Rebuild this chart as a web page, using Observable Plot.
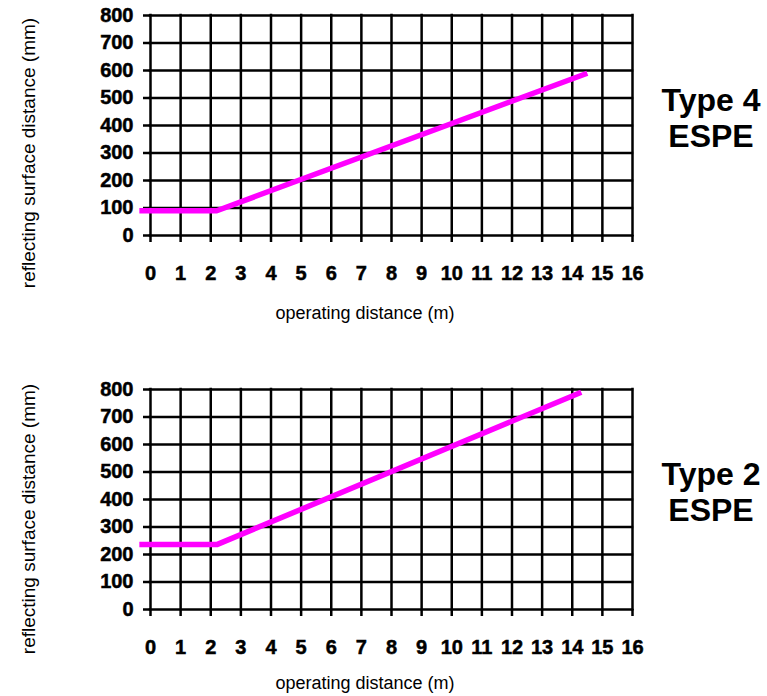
<!DOCTYPE html>
<html>
<head>
<meta charset="utf-8">
<script src="https://cdn.jsdelivr.net/npm/d3@7"></script>
<script src="https://cdn.jsdelivr.net/npm/@observablehq/plot@0.6"></script>
<style>
  html, body { margin: 0; padding: 0; background: #fff; }
  svg { display: block; }
  svg g[aria-label$="tick label"] { font-weight: bold; font-size: 20px; stroke: black; stroke-width: 0.5px; }
</style>
</head>
<body>
<div id="chart"></div>
<script>
// ---- data ----
const xTicks = [0, 1, 2, 3, 4, 5, 6, 7, 8, 9, 10, 11, 12, 13, 14, 15, 16];
const yTicks = [0, 100, 200, 300, 400, 500, 600, 700, 800];
const xLabel = "operating distance (m)";
const yLabel = "reflecting surface distance (mm)";
const panelTypes = ["Type 4", "Type 2"];
const panelSubtitle = "ESPE";
const type4Distance = [-0.37, 2.2, 14.5];
const type4Surface = [90, 90, 590];
const type2Distance = [-0.37, 2.2, 14.3];
const type2Surface = [236, 236, 790];

const series = [
  type4Distance.map((d, i) => ({distance: d, surface: type4Surface[i]})),
  type2Distance.map((d, i) => ({distance: d, surface: type2Surface[i]}))
];

const font = "'Liberation Sans', Arial, Helvetica, sans-serif";
const layout = [
  {height: 374, yTitleCenter: 153, xTitleBase: 319},
  {height: 322, yTitleCenter: 145, xTitleBase: 315}
];

const container = document.getElementById("chart");

series.forEach((data, k) => {
  const L = layout[k];
  const frameTop = 15, frameH = 220;
  const svg = Plot.plot({
    width: 767,
    height: L.height,
    marginLeft: 150,
    marginRight: 135,
    marginTop: frameTop,
    marginBottom: L.height - frameTop - frameH,
    style: {fontFamily: font, color: "black", background: "white"},
    x: {domain: [0, 16]},
    y: {domain: [0, 800]},
    marks: [
      Plot.ruleX(xTicks, {stroke: "black", strokeWidth: 2.5, strokeLinecap: "square"}),
      Plot.ruleY(yTicks, {stroke: "black", strokeWidth: 2.5, strokeLinecap: "square"}),
      Plot.axisX({ticks: xTicks, tickSize: 7, tickPadding: 23, strokeWidth: 2.5,
                  label: null, fontSize: 20, fontWeight: "bold", tickFormat: d => String(d)}),
      Plot.axisY({ticks: yTicks, tickSize: 7, tickPadding: 10, strokeWidth: 2.5,
                  label: null, fontSize: 20, fontWeight: "bold", tickFormat: d => String(d)}),
      Plot.line(data, {x: "distance", y: "surface", stroke: "#ff00ff", strokeWidth: 5.5,
                       strokeLinecap: "butt", strokeLinejoin: "miter"})
    ]
  });

  const s = d3.select(svg);
  // y axis title
  s.append("text")
    .attr("transform", `translate(28,${L.yTitleCenter}) rotate(-90)`)
    .attr("text-anchor", "middle")
    .attr("dominant-baseline", "central")
    .attr("font-family", font)
    .attr("font-size", 19)
    .attr("fill", "black")
    .text(yLabel);
  // x axis title
  s.append("text")
    .attr("x", 365)
    .attr("y", L.xTitleBase)
    .attr("text-anchor", "middle")
    .attr("font-family", font)
    .attr("font-size", 18)
    .attr("fill", "black")
    .text(xLabel);
  // panel label
  const lab = s.append("text")
    .attr("text-anchor", "middle")
    .attr("font-family", font)
    .attr("font-size", 32)
    .attr("font-weight", "bold")
    .attr("fill", "black");
  lab.append("tspan").attr("x", 711).attr("y", 111).text(panelTypes[k]);
  lab.append("tspan").attr("x", 711).attr("y", 147).text(panelSubtitle);

  container.appendChild(svg);
});
</script>
</body>
</html>
